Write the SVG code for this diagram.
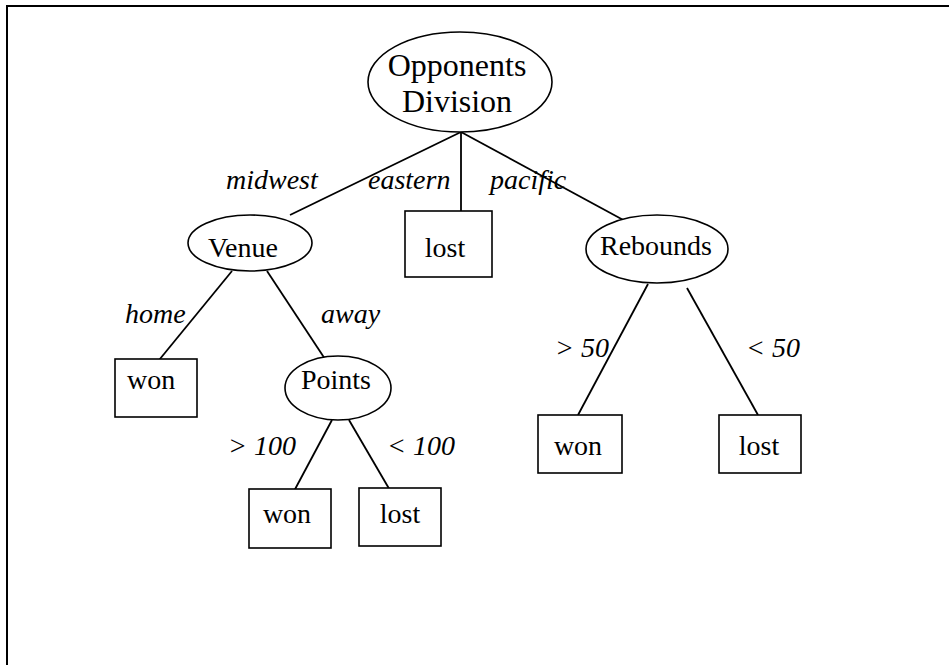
<svg xmlns="http://www.w3.org/2000/svg" width="949" height="665" viewBox="0 0 949 665">
<style>
.n{fill:#fff;stroke:#000;stroke-width:1.6}
.t{font-family:"Liberation Serif","Times New Roman",serif;font-size:28px;fill:#000}
.l{font-family:"Liberation Serif","Times New Roman",serif;font-size:28px;font-style:italic;fill:#000}
.c line{stroke:#000;stroke-width:1.8}
</style>
<rect x="7" y="6" width="980" height="700" fill="#fff" stroke="#000" stroke-width="2"/>
<g class="c" id="connectors">
<line x1="461" y1="132" x2="290" y2="215"/>
<line x1="461" y1="132" x2="461" y2="211"/>
<line x1="461" y1="132" x2="627" y2="222"/>
<line x1="232" y1="271" x2="155" y2="365"/>
<line x1="267" y1="271" x2="327" y2="362"/>
<line x1="332" y1="420" x2="293" y2="493"/>
<line x1="349" y1="420" x2="391" y2="492"/>
<line x1="648" y1="284" x2="578" y2="415"/>
<line x1="687" y1="288" x2="758" y2="415"/>
<text class="l" x="226" y="189">midwest</text>
<text class="l" x="368" y="189">eastern</text>
<text class="l" x="490" y="189">pacific</text>
<text class="l" x="125" y="323">home</text>
<text class="l" x="321" y="323">away</text>
<text class="l" x="228" y="455">&gt; 100</text>
<text class="l" x="387" y="455">&lt; 100</text>
<text class="l" x="555" y="357">&gt; 50</text>
<text class="l" x="746" y="357">&lt; 50</text>
</g>
<g id="root">
<ellipse class="n" cx="460" cy="82" rx="92" ry="50"/>
<text class="t" x="457" y="76" text-anchor="middle" style="font-size:32px">Opponents</text>
<text class="t" x="457" y="112" text-anchor="middle" style="font-size:32px">Division</text>
</g>
<g id="venue">
<ellipse class="n" cx="250" cy="243" rx="62" ry="28"/>
<text class="t" x="243" y="257" text-anchor="middle">Venue</text>
</g>
<g id="lost-eastern">
<rect class="n" x="405" y="211" width="87" height="66"/>
<text class="t" x="445" y="257" text-anchor="middle">lost</text>
</g>
<g id="rebounds">
<ellipse class="n" cx="657" cy="249" rx="71" ry="34"/>
<text class="t" x="656" y="255" text-anchor="middle">Rebounds</text>
</g>
<g id="won-home">
<rect class="n" x="115" y="359" width="82" height="58"/>
<text class="t" x="127" y="389">won</text>
</g>
<g id="points">
<ellipse class="n" cx="338" cy="388" rx="53" ry="32"/>
<text class="t" x="336" y="389" text-anchor="middle">Points</text>
</g>
<g id="won-gt100">
<rect class="n" x="249" y="489" width="82" height="59"/>
<text class="t" x="287" y="523" text-anchor="middle">won</text>
</g>
<g id="lost-lt100">
<rect class="n" x="359" y="488" width="82" height="58"/>
<text class="t" x="400" y="523" text-anchor="middle">lost</text>
</g>
<g id="won-gt50">
<rect class="n" x="538" y="415" width="84" height="58"/>
<text class="t" x="578" y="455" text-anchor="middle">won</text>
</g>
<g id="lost-lt50">
<rect class="n" x="719" y="415" width="82" height="58"/>
<text class="t" x="759" y="455" text-anchor="middle">lost</text>
</g>
</svg>
